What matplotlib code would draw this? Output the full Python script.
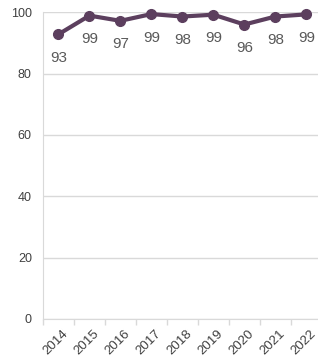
import matplotlib.pyplot as plt
import matplotlib.transforms as mtrans
import numpy as np

years = ["2014", "2015", "2016", "2017", "2018", "2019", "2020", "2021", "2022"]
values = [92.8, 98.9, 97.2, 99.4, 98.6, 99.2, 96.0, 98.6, 99.3]
labels = ["93", "99", "97", "99", "98", "99", "96", "98", "99"]

plt.rcParams["font.family"] = ["Liberation Sans", "DejaVu Sans"]
line_col = "#5c3f5e"
grid_col = "#d9d9d9"
text_col = "#595959"

fig = plt.figure(figsize=(3.18, 3.6), dpi=100)
ax = fig.add_axes([0.135, 0.114, 0.877, 0.852])

x = np.arange(len(years)) + 0.5
ax.plot(x, values, color=line_col, lw=3, marker="o", ms=7, zorder=3, clip_on=False)
for xi, v, lab in zip(x, values, labels):
    ax.annotate(lab, (xi, v), xytext=(0, -17), textcoords="offset points",
                ha="center", va="center", fontsize=11, color=text_col)

ax.set_xlim(0, len(years))
ax.set_ylim(0, 100)
ax.set_yticks(range(0, 101, 20))
ax.yaxis.grid(True, color=grid_col, lw=1)
ax.set_axisbelow(True)
ax.tick_params(axis="y", length=0, labelsize=9, labelcolor="#404040", pad=8)

ax.set_xticks(x)
ax.set_xticklabels(years, rotation=45, ha="right", rotation_mode="anchor",
                   fontsize=9.5, color="#404040")
ax.tick_params(axis="x", which="major", length=0, pad=6)
# nudge the rotated year labels a little to the right
shift = mtrans.ScaledTranslation(2.5 / 72, 0, fig.dpi_scale_trans)
for t in ax.get_xticklabels():
    t.set_transform(t.get_transform() + shift)
ax.set_xticks(np.arange(len(years) + 1), minor=True)
ax.tick_params(axis="x", which="minor", length=4, color=grid_col, width=1)

for s in ["top", "right"]:
    ax.spines[s].set_visible(False)
ax.spines["left"].set_color(grid_col)
ax.spines["bottom"].set_color(grid_col)

fig.savefig("out.png", dpi=100)
